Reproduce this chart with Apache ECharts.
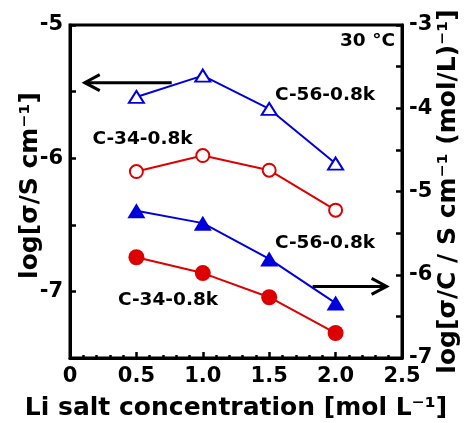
<!DOCTYPE html>
<html><head><meta charset="utf-8">
<script src="https://cdn.jsdelivr.net/npm/echarts@6/dist/echarts.min.js"></script>
<style>html,body{margin:0;padding:0;background:#fff}#c{width:467px;height:423px}</style>
</head><body><div id="c"></div>
<script>
// ---- data ----
const conc = [0.5, 1.0, 1.5, 2.0];                 // Li salt concentration [mol/L]
const c56Sigma  = [-5.54, -5.38, -5.63, -6.04];    // log sigma, C-56-0.8k (left axis)
const c34Sigma  = [-6.10, -5.98, -6.09, -6.39];    // log sigma, C-34-0.8k (left axis)
const c56SigmaC = [-5.23, -5.38, -5.81, -6.34];    // log sigma/C, C-56-0.8k (right axis)
const c34SigmaC = [-5.79, -5.98, -6.27, -6.70];    // log sigma/C, C-34-0.8k (right axis)
const xTickLabels = ['0', '0.5', '1.0', '1.5', '2.0', '2.5'];
const leftTickLabels = ['-5', '-6', '-7'];
const rightTickLabels = ['-3', '-4', '-5', '-6', '-7'];
const seriesNames = ['C-56-0.8k', 'C-34-0.8k'];

// ---- annotations (data coords, left axis) ----
const notes = [
  {text: '30 °C', x: 2.447, y: -5.118, align: 'right'},
  {text: seriesNames[0], x: 1.543, y: -5.529, align: 'left'},
  {text: seriesNames[1], x: 0.169, y: -5.854, align: 'left'},
  {text: seriesNames[0], x: 1.543, y: -6.635, align: 'left'},
  {text: seriesNames[1], x: 0.361, y: -7.068, align: 'left'}
];
const leftArrow = [0.766, -5.433, 0.111, -5.433];   // left axis
const rightArrow = [1.827, -6.14, 2.384, -6.14];    // right axis

const FONT = 'DejaVu Sans';
const BLUE = '#0000dd', RED = '#dd0000';
const pair = arr => conc.map((c, i) => [c, arr[i]]);

function arrowRender(params, api) {
  const p1 = api.coord([api.value(0), api.value(1)]);
  const p2 = api.coord([api.value(2), api.value(3)]);
  const dir = Math.sign(p2[0] - p1[0]);
  const st = {stroke: '#000', lineWidth: 3, fill: null, lineCap: 'butt', lineJoin: 'miter'};
  return {type: 'group', children: [
    {type: 'line', shape: {x1: p1[0], y1: p1[1], x2: p2[0], y2: p2[1]}, style: st},
    {type: 'polyline', shape: {points: [[p2[0] - dir * 15, p2[1] - 8], [p2[0], p2[1]], [p2[0] - dir * 15, p2[1] + 8]]}, style: st}
  ]};
}

const chart = echarts.init(document.getElementById('c'), null, {renderer: 'canvas'});
const labelStyle = {fontFamily: FONT, fontWeight: 'bold', fontSize: 21, color: '#000'};
const nameStyle = {fontFamily: FONT, fontWeight: 'bold', fontSize: 25, color: '#000'};
const tickStyle = {show: true, inside: true, length: 6, lineStyle: {color: '#000', width: 2.5}};
const lineAx = {show: true, onZero: false, lineStyle: {color: '#000', width: 3}};

chart.setOption({
  animation: false,
  backgroundColor: '#fff',
  grid: {left: 70, right: 65, top: 25, bottom: 65, show: true, borderColor: '#000', borderWidth: 3,
         backgroundColor: 'transparent', outerBoundsMode: 'none', containLabel: false},
  xAxis: {
    type: 'value', min: 0, max: 2.5, interval: 0.5,
    axisLine: lineAx, axisTick: tickStyle,
    minorTick: {show: true, splitNumber: 5, length: 3, lineStyle: {color: '#000', width: 2.5}},
    splitLine: {show: false}, minorSplitLine: {show: false},
    axisLabel: Object.assign({}, labelStyle, {margin: 8, formatter: v => xTickLabels[Math.round(v / 0.5)] || ''}),
    name: 'Li salt concentration [mol L⁻¹]', nameLocation: 'middle', nameGap: 38, nameMoveOverlap: false,
    nameTextStyle: nameStyle
  },
  yAxis: [{
    type: 'value', position: 'left', min: -7.5, max: -5, interval: 0.5,
    axisLine: lineAx, axisTick: tickStyle, splitLine: {show: false},
    axisLabel: Object.assign({}, labelStyle, {margin: 7, formatter: v => {
      const i = leftTickLabels.indexOf(String(v)); return i >= 0 ? leftTickLabels[i] : ''; }}),
    name: 'log[σ/S cm⁻¹]', nameLocation: 'middle', nameGap: 27, nameMoveOverlap: false,
    nameTextStyle: Object.assign({}, nameStyle, {padding: [0, 0, 0, 12]})
  }, {
    type: 'value', position: 'right', min: -7, max: -3, interval: 0.5,
    axisLine: lineAx, axisTick: tickStyle, splitLine: {show: false},
    axisLabel: Object.assign({}, labelStyle, {margin: 7, formatter: v => {
      const i = rightTickLabels.indexOf(String(v)); return i >= 0 ? rightTickLabels[i] : ''; }}),
    name: 'log[σ/C / S cm⁻¹ (mol/L)⁻¹]', nameLocation: 'middle', nameGap: 34, nameMoveOverlap: false,
    nameTextStyle: nameStyle
  }],
  series: [
    {name: seriesNames[0] + ' σ/C', type: 'line', yAxisIndex: 1, data: pair(c56SigmaC),
     symbol: 'triangle', symbolSize: [18, 15], lineStyle: {color: BLUE, width: 2},
     itemStyle: {color: BLUE, borderWidth: 0}},
    {name: seriesNames[1] + ' σ/C', type: 'line', yAxisIndex: 1, data: pair(c34SigmaC),
     symbol: 'circle', symbolSize: 16, lineStyle: {color: RED, width: 2},
     itemStyle: {color: RED, borderWidth: 0}},
    {name: seriesNames[0] + ' σ', type: 'line', yAxisIndex: 0, data: pair(c56Sigma),
     symbol: 'triangle', symbolSize: [15, 12], showAllSymbol: true, lineStyle: {color: BLUE, width: 2},
     itemStyle: {color: '#fff', borderColor: BLUE, borderWidth: 2}},
    {name: seriesNames[1] + ' σ', type: 'line', yAxisIndex: 0, data: pair(c34Sigma),
     symbol: 'circle', symbolSize: 13, lineStyle: {color: RED, width: 2},
     itemStyle: {color: '#fff', borderColor: RED, borderWidth: 2}},
    {type: 'custom', yAxisIndex: 0, data: [leftArrow], renderItem: arrowRender, silent: true, z: 5},
    {type: 'custom', yAxisIndex: 1, data: [rightArrow], renderItem: arrowRender, silent: true, z: 5},
    {type: 'custom', yAxisIndex: 0, silent: true, z: 6,
     data: notes.map((n, i) => [n.x, n.y, i]),
     renderItem: (params, api) => {
       const n = notes[api.value(2)];
       const p = api.coord([api.value(0), api.value(1)]);
       return {type: 'text', x: p[0], y: p[1], style: {
         text: n.text, fontFamily: FONT, fontWeight: 'bold', fontSize: 18.5, fill: '#000',
         align: n.align, verticalAlign: 'middle'}};
     }}
  ]
});
</script></body></html>
